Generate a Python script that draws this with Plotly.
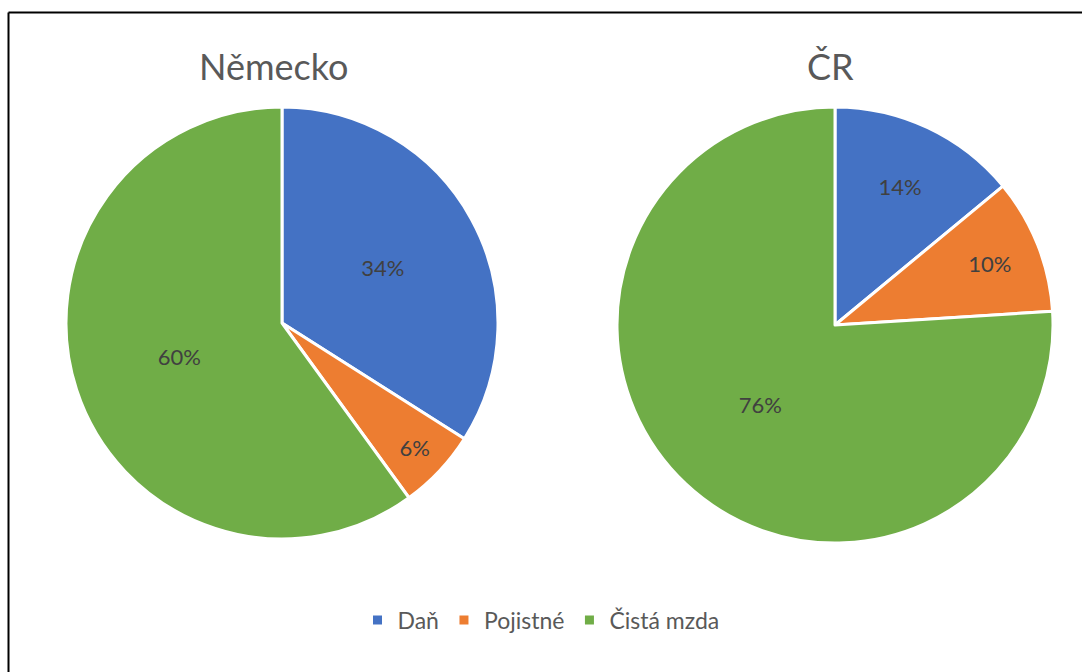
import plotly.graph_objects as go

# Podíl daně, pojistného a čisté mzdy na hrubé mzdě
categories = ["Daň", "Pojistné", "Čistá mzda"]
nemecko_values = [34, 6, 60]
cr_values = [14, 10, 76]
chart_titles = ["Německo", "ČR"]
colors = ["#4472C4", "#ED7D31", "#70AD47"]

W, H = 1082, 672
FONT = "Lato, 'Open Sans', sans-serif"


def px_x(x):
    return x / W


def px_y(y):
    return 1 - y / H


fig = go.Figure()

common = dict(
    labels=categories,
    sort=False,
    direction="clockwise",
    rotation=0,
    marker=dict(colors=colors, line=dict(color="white", width=3)),
    textinfo="percent",
    texttemplate="%{percent:.0%}",
    textposition="inside",
    insidetextorientation="horizontal",
    textfont=dict(family=FONT, size=22, color="#404040"),
    hoverinfo="label+percent",
)

fig.add_trace(go.Pie(
    values=nemecko_values,
    name=chart_titles[0],
    domain=dict(x=[px_x(66), px_x(498)], y=[px_y(539), px_y(107)]),
    **common,
))
fig.add_trace(go.Pie(
    values=cr_values,
    name=chart_titles[1],
    domain=dict(x=[px_x(617), px_x(1053)], y=[px_y(543), px_y(107)]),
    showlegend=False,
    **common,
))

# Nadpisy obou grafů
for title, cx in zip(chart_titles, [273, 830]):
    fig.add_annotation(
        text=title, x=px_x(cx), y=px_y(66), xref="paper", yref="paper",
        xanchor="center", yanchor="middle", showarrow=False,
        font=dict(family=FONT, size=36, color="#595959"),
    )

# Rámeček oblasti grafu (horní a levá hrana)
fig.add_shape(type="line", xref="paper", yref="paper",
              x0=px_x(8.5), x1=1, y0=px_y(12.5), y1=px_y(12.5),
              line=dict(color="black", width=2))
fig.add_shape(type="line", xref="paper", yref="paper",
              x0=px_x(8.5), x1=px_x(8.5), y0=0, y1=px_y(12.5),
              line=dict(color="black", width=2))

fig.update_layout(
    width=W, height=H,
    margin=dict(l=0, r=0, t=0, b=0),
    paper_bgcolor="white",
    plot_bgcolor="white",
    showlegend=True,
    legend=dict(
        orientation="h", x=0.5, xanchor="center", y=px_y(620), yanchor="middle",
        font=dict(family=FONT, size=23, color="#595959"),
        itemwidth=30, traceorder="normal",
    ),
)

fig.write_html("out.html")
